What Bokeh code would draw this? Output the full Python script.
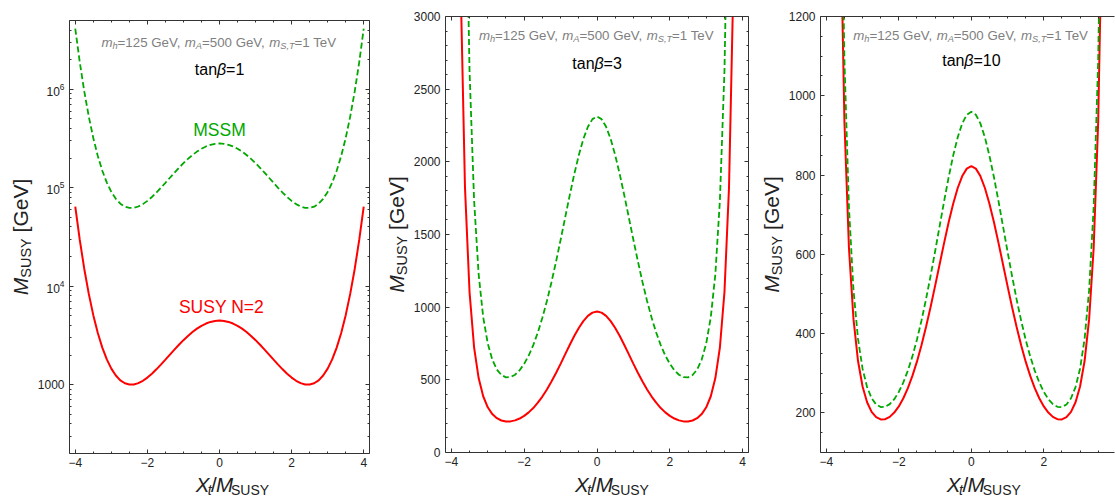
import math
from bokeh.plotting import figure
from bokeh.models import (FixedTicker, LinearAxis, LogAxis, Label, Range1d,
                          CustomJSTickFormatter, LogTickFormatter)
from bokeh.layouts import row, column
from bokeh.embed import file_html
from bokeh.resources import INLINE
from bokeh.core.validation import silence
from bokeh.core.validation.warnings import MISSING_RENDERERS

silence(MISSING_RENDERERS, True)

# ---------------- data ----------------
x_vals = [-4.0, -3.875, -3.75, -3.625, -3.5, -3.375, -3.25, -3.125, -3.0, -2.875, -2.75,
          -2.625, -2.5, -2.375, -2.25, -2.125, -2.0, -1.875, -1.75, -1.625, -1.5, -1.375,
          -1.25, -1.125, -1.0, -0.875, -0.75, -0.625, -0.5, -0.375, -0.25, -0.125, 0.0,
          0.125, 0.25, 0.375, 0.5, 0.625, 0.75, 0.875, 1.0, 1.125, 1.25, 1.375, 1.5, 1.625,
          1.75, 1.875, 2.0, 2.125, 2.25, 2.375, 2.5, 2.625, 2.75, 2.875, 3.0, 3.125, 3.25,
          3.375, 3.5, 3.625, 3.75, 3.875, 4.0]

# tan(beta)=1 (log axis)
n2_tb1 = [64310, 29510, 14980, 8358, 5086, 3354, 2379, 1805, 1455, 1238, 1107, 1034, 1003,
          1005, 1037, 1096, 1181, 1293, 1432, 1600, 1796, 2020, 2271, 2543, 2832, 3129, 3425,
          3707, 3962, 4177, 4341, 4442,
          4477, 4442, 4341, 4177, 3962, 3707, 3425, 3129, 2832, 2543, 2271, 2020, 1796, 1600,
          1432, 1293, 1181, 1096, 1037, 1005, 1003, 1034, 1107, 1238, 1455, 1805, 2379, 3354,
          5086, 8358, 14980, 29510, 64310]
mssm_tb1 = [4134000, 1885000, 951900, 528700, 320500, 210600, 149000, 112800, 90760, 77170,
            68930, 64320, 62370, 62550, 64550, 68240, 73590, 80610, 89400, 99900, 112300,
            126400, 142200, 159400, 177600, 196400, 215200, 233000, 249200, 262800, 273200,
            279600,
            281800, 279600, 273200, 262800, 249200, 233000, 215200, 196400, 177600, 159400,
            142200, 126400, 112300, 99900, 89400, 80610, 73590, 68240, 64550, 62550, 62370,
            64320, 68930, 77170, 90760, 112800, 149000, 210600, 320500, 528700, 951900,
            1885000, 4134000]
# tan(beta)=3
n2_tb3 = [14370, 6532, 3291, 1824, 1104, 724, 512, 387, 311, 264.4, 236, 220.2, 213.5, 214.1,
          221, 233.7, 252, 276.2, 306, 342.6, 385, 433.7, 488, 547.4, 610, 675.3, 740, 801.4,
          857, 904.3, 940, 962.4,
          970, 962.4, 940, 904.3, 857, 801.4, 740, 675.3, 610, 547.4, 488, 433.7, 385, 342.6,
          306, 276.2, 252, 233.7, 221, 214.1, 213.5, 220.2, 236, 264.4, 311, 387, 512, 724,
          1104, 1824, 3291, 6532, 14370]
mssm_tb3 = [33250, 15250, 7740, 4317, 2627, 1736, 1227, 932, 751, 639.1, 571, 533.4, 517,
            518.8, 535, 565.7, 610, 667.4, 739, 825.8, 927, 1043, 1172, 1313, 1462, 1616,
            1769, 1914, 2046, 2157, 2241, 2294,
            2312, 2294, 2241, 2157, 2046, 1914, 1769, 1616, 1462, 1313, 1172, 1043, 927,
            825.8, 739, 667.4, 610, 565.7, 535, 518.8, 517, 533.4, 571, 639.1, 751, 932, 1227,
            1736, 2627, 4317, 7740, 15250, 33250]
# tan(beta)=10
n2_tb10 = [11900, 5447, 2761, 1538, 934.8, 615.7, 436.4, 330.8, 266.5, 226.8, 202.6, 189.2,
           183.5, 184.0, 189.9, 200.7, 216.3, 236.8, 262.4, 293.2, 329.2, 370.4, 416.4, 466.5,
           519.7, 574.5, 628.9, 680.7, 727.7, 767.3, 797.4, 816.2,
           822.6, 816.2, 797.4, 767.3, 727.7, 680.7, 628.9, 574.5, 519.7, 466.5, 416.4, 370.4,
           329.2, 293.2, 262.4, 236.8, 216.3, 200.7, 189.9, 184.0, 183.5, 189.2, 202.6, 226.8,
           266.5, 330.8, 436.4, 615.7, 934.8, 1538, 2761, 5447, 11900]
mssm_tb10 = [13830, 6337, 3215, 1793, 1090, 718.6, 509.6, 386.5, 311.4, 265.1, 236.9, 221.2,
             214.6, 215.2, 222.0, 234.6, 252.8, 276.8, 306.6, 342.5, 384.6, 432.6, 486.3,
             544.8, 606.7, 670.5, 734.0, 794.4, 849.1, 895.3, 930.3, 952.2,
             959.7, 952.2, 930.3, 895.3, 849.1, 794.4, 734.0, 670.5, 606.7, 544.8, 486.3,
             432.6, 384.6, 342.5, 306.6, 276.8, 252.8, 234.6, 222.0, 215.2, 214.6, 221.2,
             236.9, 265.1, 311.4, 386.5, 509.6, 718.6, 1090, 1793, 3215, 6337, 13830]

for arr in (n2_tb1, mssm_tb1, n2_tb3, mssm_tb3, n2_tb10, mssm_tb10):
    assert len(arr) == len(x_vals)

tanb_labels = ["1", "3", "10"]
x_major = [-4, -2, 0, 2, 4]
x_minor = [-3.5, -3, -2.5, -1.5, -1, -0.5, 0.5, 1, 1.5, 2.5, 3, 3.5]

# ---------------- style ----------------
FONT = "Liberation Sans"
FRAME = "#333333"
TXT = "#222222"
RED = "#ff0000"
GREEN = "#00a800"
GRAY = "#808080"
PAGE_H = 497
MID = 0.35  # distance (in em) from the baseline up to the "middle" anchor

WID = {' ': 278, ',': 278, '/': 278, '=': 584, '[': 278, ']': 278, 'A': 667, 'G': 778,
       'M': 833, 'N': 722, 'S': 667, 'T': 611, 'U': 722, 'V': 667, 'X': 667, 'Y': 667,
       'a': 556, 'e': 556, 'h': 556, 'm': 833, 'n': 556, 't': 278, 'β': 573}
for d in "0123456789":
    WID[d] = 556


def tw(s, size):
    return sum(WID.get(c, 556) for c in s) * size / 1000.0


class Pan:
    """maps page pixels to the data coordinates of a figure's frame"""
    def __init__(s, L, W, x0, x1, T, H, y0, y1, log=False):
        s.L, s.W, s.x0, s.x1, s.T, s.H, s.y0, s.y1, s.log = L, W, x0, x1, T, H, y0, y1, log

    def dx(s, px):
        return s.x0 + (px - s.L) / s.W * (s.x1 - s.x0)

    def px(s, xd):
        return s.L + (xd - s.x0) / (s.x1 - s.x0) * s.W

    def dy(s, py):
        t = (s.T + s.H - py) / s.H
        if s.log:
            a, b = math.log10(s.y0), math.log10(s.y1)
            return 10 ** (a + t * (b - a))
        return s.y0 + t * (s.y1 - s.y0)


def lab(p, pan, text, px, py, size, color, italic=False, align="left", rotated=False):
    # (px, py): start of the text on its baseline, in page pixels
    if rotated:
        ax, ay, angle = px - MID * size, py, math.pi / 2
    else:
        ax, ay, angle = px, py - MID * size, 0.0
    p.add_layout(Label(x=pan.dx(ax), y=pan.dy(ay), x_units="data", y_units="data",
                       text=text, text_font=FONT, text_font_size=f"{size}px",
                       text_font_style="italic" if italic else "normal",
                       text_color=color, text_align=align, text_baseline="middle",
                       angle=angle))


def rich_h(p, pan, segs, cx, base, color):
    total = sum(tw(t, sz) for t, sz, it, d in segs)
    pos = cx - total / 2.0
    for t, sz, it, d in segs:
        s = t.lstrip(" ")
        pos += tw(t[:len(t) - len(s)], sz)
        lab(p, pan, s, pos, base + d, sz, color, it)
        pos += tw(s, sz)


def rich_v(p, pan, segs, basex, cy, color):
    total = sum(tw(t, sz) for t, sz, it, d in segs)
    pos = cy + total / 2.0
    for t, sz, it, d in segs:
        s = t.lstrip(" ")
        pos -= tw(t[:len(t) - len(s)], sz)
        lab(p, pan, s, basex + d, pos, sz, color, it, rotated=True)
        pos -= tw(s, sz)


def style_axis(ax, ticks, minor, show=True, standoff=5):
    ax.ticker = FixedTicker(ticks=ticks, minor_ticks=minor)
    ax.axis_line_color = FRAME
    ax.axis_line_width = 1
    ax.major_tick_in = 4
    ax.major_tick_out = 0
    ax.minor_tick_in = 2
    ax.minor_tick_out = 0
    ax.major_tick_line_color = FRAME
    ax.minor_tick_line_color = FRAME
    ax.major_label_text_font = FONT
    ax.major_label_text_font_size = "12px"
    ax.major_label_text_color = TXT
    ax.major_label_standoff = standoff
    if not show:
        ax.formatter = CustomJSTickFormatter(code="return '';")
        ax.major_label_standoff = 0


minus_fmt = "return tick < 0 ? '\\u2212' + Math.abs(tick) : String(tick);"


def make_plot(width, height, mbl, mbr, mbt, mbb, pan, yticks, yminor, log, right_axis):
    p = figure(width=width, height=height, title=None,
               x_range=Range1d(pan.x0, pan.x1), y_range=Range1d(pan.y0, pan.y1),
               y_axis_type="log" if log else "linear",
               output_backend="svg", toolbar_location=None,
               min_border_left=mbl, min_border_right=mbr,
               min_border_top=mbt, min_border_bottom=mbb)
    p.grid.visible = False
    p.outline_line_color = None
    p.background_fill_color = "white"
    p.border_fill_color = "white"

    style_axis(p.xaxis[0], x_major, x_minor, standoff=4)
    p.xaxis[0].formatter = CustomJSTickFormatter(code=minus_fmt)
    style_axis(p.yaxis[0], yticks, yminor)
    if log:
        p.yaxis[0].formatter = LogTickFormatter()
        p.yaxis[0].major_label_overrides = {1000: "1000"}

    top = LinearAxis()
    style_axis(top, x_major, x_minor, show=False)
    p.add_layout(top, "above")
    if right_axis:
        r = LogAxis() if log else LinearAxis()
        style_axis(r, yticks, yminor, show=False)
        p.add_layout(r, "right")
    return p


def make_blank(width, height):
    p = figure(width=width, height=height, title=None,
               x_range=Range1d(0, width), y_range=Range1d(0, height),
               output_backend="svg", toolbar_location=None,
               x_axis_location=None, y_axis_location=None, min_border=0)
    p.grid.visible = False
    p.outline_line_color = None
    p.background_fill_color = "white"
    p.border_fill_color = "white"
    return p


# ---------------- geometry (page pixels) ----------------
P1 = Pan(67, 302, -4.16, 4.16, 20, 433, 200, 5e6, log=True)
P2 = Pan(443, 305, -4.16, 4.16, 16, 436, 0, 3000)
P3 = Pan(818, 296, -4.16, 3.95, 16, 436, 100, 1200)

log_major = [1000, 10000, 100000, 1000000]
log_minor = ([m * 100 for m in range(2, 10)] + [m * 1000 for m in range(2, 10)] +
             [m * 10000 for m in range(2, 10)] + [m * 100000 for m in range(2, 10)] +
             [m * 1000000 for m in range(2, 6)])

PLOT_H = 471
p1 = make_plot(344, PLOT_H, 33, 9, 20, 18, P1, log_major, log_minor, True, True)
p2 = make_plot(342, PLOT_H, 33, 4, 16, 19, P2, [0, 500, 1000, 1500, 2000, 2500, 3000],
               [v for v in range(100, 3000, 100) if v % 500 != 0], False, True)
p3 = make_plot(330, PLOT_H, 33, 1, 16, 19, P3, [200, 400, 600, 800, 1000, 1200],
               [v for v in range(100, 1201, 50) if v % 200 != 0], False, False)

series = [(p1, n2_tb1, mssm_tb1), (p2, n2_tb3, mssm_tb3), (p3, n2_tb10, mssm_tb10)]
for p, red, green in series:
    p.line(x_vals, red, line_color=RED, line_width=2)
    p.line(x_vals, green, line_color=GREEN, line_width=1.8, line_dash="6 3")

# (y-label strip left, strip width, plot figure left, plot width, plot, frame map)
groups = [(0, 34, 34, 344, p1, P1), (378, 32, 410, 342, p2, P2), (752, 33, 785, 330, p3, P3)]

ann = [("m", 13.3, True, 0), ("h", 9.3, True, 2.5), ("=125 GeV, ", 13.3, False, 0),
       ("m", 13.3, True, 0), ("A", 9.3, True, 2.5), ("=500 GeV, ", 13.3, False, 0),
       ("m", 13.3, True, 0), ("S,T", 9.3, True, 2.5), ("=1 TeV", 13.3, False, 0)]
xlab = [("X", 20.5, True, 0), ("t", 14, True, 3), ("/", 20.5, False, 0),
        ("M", 20.5, True, 0), ("SUSY", 14, False, 3)]
ylab = [("M", 21, True, 0), ("SUSY", 14.5, False, 3.5), (" [GeV]", 21, False, 0)]
ann_base = [46.7, 39.3, 39.3]
tb_base = [75.0, 68.5, 66.0]

children = []
for i, (yl_x, yl_w, pl_x, pl_w, p, pan) in enumerate(groups):
    cx = pan.px(0.0)
    rich_h(p, pan, ann, cx, ann_base[i], GRAY)
    rich_h(p, pan, [("tan", 16, False, 0), ("β", 16, True, 0),
                    ("=" + tanb_labels[i], 16, False, 0)], cx, tb_base[i], "#000000")

    yl = make_blank(yl_w, PAGE_H)
    ylpan = Pan(yl_x, yl_w, 0, yl_w, 0, PAGE_H, 0, PAGE_H)
    rich_v(yl, ylpan, ylab, pan.L - 40, pan.T + pan.H / 2.0, TXT)

    xl_h = PAGE_H - PLOT_H
    xl = make_blank(pl_w, xl_h)
    xlpan = Pan(pl_x, pl_w, 0, pl_w, PLOT_H, xl_h, 0, xl_h)
    rich_h(xl, xlpan, xlab, pan.L + pan.W / 2.0, 491.0, TXT)

    children.append(row(yl, column(p, xl)))

lab(p1, P1, "MSSM", P1.px(0.0), 136, 17.5, GREEN, align="center")
lab(p1, P1, "SUSY N=2", P1.px(0.0) + 2, 313, 17.5, RED, align="center")

layout = row(*children)
open("out.html", "w", encoding="utf-8").write(file_html(layout, INLINE))
